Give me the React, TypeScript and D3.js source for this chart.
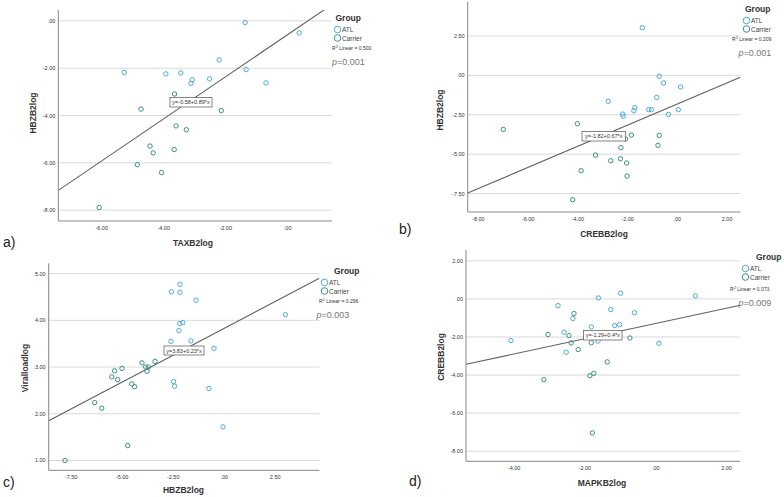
import React from "react";
import * as d3 from "d3";

// Panel a: TAXB2log vs HBZB2log
const aAtlX = [-1.37, 0.37, -5.27, -3.93, -3.45, -2.21, -1.34, -3.08, -3.12, -2.52, -0.70];
const aAtlY = [-0.07, -0.51, -2.18, -2.24, -2.20, -1.65, -2.06, -2.49, -2.64, -2.45, -2.62];
const aCarX = [-3.65, -4.73, -2.14, -3.60, -3.27, -4.44, -4.34, -3.66, -4.85, -4.07, -6.08];
const aCarY = [-3.09, -3.73, -3.79, -4.44, -4.60, -5.29, -5.58, -5.44, -6.08, -6.41, -7.89];

// Panel b: CREBB2log vs HBZB2log
const bAtlX = [-1.41, -0.73, -0.56, 0.13, -0.83, -2.78, -1.71, -1.75, -1.15, -1.04, 0.04, -2.20, -2.18, -0.36];
const bAtlY = [3.02, -0.06, -0.49, -0.74, -1.40, -1.65, -2.05, -2.25, -2.18, -2.18, -2.18, -2.46, -2.60, -2.48];
const bCarX = [-7.0, -4.02, -1.85, -0.73, -2.08, -2.27, -0.78, -3.29, -2.29, -2.68, -2.04, -3.87, -2.02, -4.21];
const bCarY = [-3.43, -3.07, -3.79, -3.81, -4.04, -4.59, -4.44, -5.06, -5.29, -5.42, -5.56, -6.05, -6.39, -7.89];

// Panel c: HBZB2log vs Viralloadlog
const cAtlX = [-2.17, -2.59, -2.17, -1.38, 3.0, -2.03, -2.18, -2.22, -2.61, -1.63, -0.5, -2.48, -2.43, -0.75, -0.06];
const cAtlY = [4.77, 4.61, 4.60, 4.43, 4.12, 3.95, 3.93, 3.78, 3.55, 3.56, 3.40, 2.69, 2.59, 2.54, 1.72];
const cCarX = [-4.03, -3.39, -3.85, -3.72, -3.78, -5.01, -5.37, -5.51, -5.22, -4.53, -4.39, -6.35, -6.0, -4.73, -7.8];
const cCarY = [3.09, 3.12, 3.0, 3.0, 2.91, 2.97, 2.92, 2.79, 2.73, 2.64, 2.58, 2.24, 2.12, 1.32, 1.0];

// Panel d: MAPKB2log vs CREBB2log
const dAtlX = [-0.99, 1.12, -1.62, -2.76, -1.27, -0.60, -2.34, -1.16, -1.02, -1.82, -2.59, -4.09, -1.63, 0.09, -2.53];
const dAtlY = [0.30, 0.16, 0.05, -0.35, -0.56, -0.72, -1.03, -1.40, -1.35, -1.47, -1.75, -2.19, -2.21, -2.33, -2.80];
const dCarX = [-2.31, -3.04, -2.45, -0.73, -2.39, -1.82, -2.19, -1.37, -1.75, -1.86, -3.16, -1.79];
const dCarY = [-0.77, -1.87, -1.93, -2.05, -2.31, -2.30, -2.66, -3.31, -3.91, -4.03, -4.24, -7.04];

const xTicksA = [-6, -4, -2, 0];
const yTicksA = [0, -2, -4, -6, -8];
const xTicksB = [-8, -6, -4, -2, 0, 2];
const yTicksB = [2.5, 0, -2.5, -5, -7.5];
const xTicksC = [-7.5, -5, -2.5, 0, 2.5];
const yTicksC = [5, 4, 3, 2, 1];
const xTicksD = [-4, -2, 0, 2];
const yTicksD = [2, 0, -2, -4, -6, -8];

const intercepts = [-0.58, -1.82, 3.83, -1.29];
const slopes = [0.89, 0.67, 0.23, 0.4];
const eqLabels = ["y=-0.58+0.89*x", "y=-1.82+0.67*x", "y=3.83+0.23*x", "y=-1.29+0.4*x"];
const r2Labels = ["0.500", "0.209", "0.296", "0.073"];
const pLabels = ["0.001", "0.001", "0.003", "0.009"];
const xTitles = ["TAXB2log", "CREBB2log", "HBZB2log", "MAPKB2log"];
const yTitles = ["HBZB2log", "HBZB2log", "Viralloadlog", "CREBB2log"];
const panelLetters = ["a)", "b)", "c)", "d)"];
const groups = ["ATL", "Carrier"];

const ATL = "#4ea9e0";
const CAR = "#3a8f8a";
const FONT = "Liberation Sans, Arial, sans-serif";

function fmt(v: number) {
  if (v === 0) return ".00";
  return v.toFixed(2);
}

type Layout = {
  xd: [number, number]; xr: [number, number];
  yd: [number, number]; yr: [number, number];
  letter: [number, number]; xTitle: [number, number]; yTitle: [number, number];
  eq: [number, number, number, number];
  legend: [number, number]; legCircleX: number; r2: [number, number]; p: [number, number];
};

const layouts: Layout[] = [
  { xd: [-7.4, 1.43], xr: [58.3, 332], yd: [-8.46, 0.46], yr: [221, 10],
    letter: [3, 247], xTitle: [193, 246], yTitle: [36, 113], eq: [170, 97.5, 42, 9.5],
    legend: [335.5, 21], legCircleX: 337.5, r2: [332, 50], p: [332, 65] },
  { xd: [-8.43, 2.53], xr: [467.7, 740.3], yd: [-8.67, 4.67], yr: [212, 1.7],
    letter: [399, 234], xTitle: [604, 237], yTitle: [443, 110], eq: [582, 131.5, 43.5, 9.5],
    legend: [745, 12], legCircleX: 746.5, r2: [732, 41], p: [738.5, 56] },
  { xd: [-8.6, 4.66], xr: [48.7, 319.3], yd: [0.79, 5.22], yr: [470.3, 263.3],
    letter: [3, 487], xTitle: [183.5, 493], yTitle: [28, 368], eq: [164, 346, 40, 9],
    legend: [334, 274], legCircleX: 324.5, r2: [319, 303], p: [316.5, 318] },
  { xd: [-5.36, 2.39], xr: [466, 740.3], yd: [-8.53, 2.57], yr: [461.3, 250],
    letter: [409, 486], xTitle: [602, 486], yTitle: [444, 357], eq: [583.5, 330.5, 38.5, 9.5],
    legend: [756, 260], legCircleX: 745.5, r2: [730, 291], p: [738.5, 306] },
];

const atlX = [aAtlX, bAtlX, cAtlX, dAtlX];
const atlY = [aAtlY, bAtlY, cAtlY, dAtlY];
const carX = [aCarX, bCarX, cCarX, dCarX];
const carY = [aCarY, bCarY, cCarY, dCarY];
const xTicks = [xTicksA, xTicksB, xTicksC, xTicksD];
const yTicks = [yTicksA, yTicksB, yTicksC, yTicksD];

function Panel({ i }: { i: number }) {
  const L = layouts[i];
  const x = d3.scaleLinear().domain(L.xd).range(L.xr);
  const y = d3.scaleLinear().domain(L.yd).range(L.yr);
  const [x0, x1] = L.xr;
  const yb = L.yr[0], yt = L.yr[1];
  const clipId = "clip" + i;
  const line = d3.line<number>().x((v) => x(v)).y((v) => y(intercepts[i] + slopes[i] * v));
  const ax = atlX[i], ay = atlY[i], cx = carX[i], cy = carY[i];
  const legLabelX = layouts[i].legCircleX + 4.5;
  return (
    <g>
      <defs>
        <clipPath id={clipId}>
          <rect x={x0} y={yt} width={x1 - x0} height={yb - yt} />
        </clipPath>
      </defs>
      {yTicks[i].map((t) => (
        <g key={"gy" + t}>
          <line x1={x0} x2={x1} y1={y(t)} y2={y(t)} stroke="#d9d9d9" strokeWidth={1} />
          <text x={x0 - 3} y={y(t) + 2} fontSize={5.5} textAnchor="end" fill="#333" fontFamily={FONT}>{fmt(t)}</text>
        </g>
      ))}
      {xTicks[i].map((t) => (
        <text key={"gx" + t} x={x(t)} y={yb + 8.5} fontSize={5.5} textAnchor="middle" fill="#333" fontFamily={FONT}>{fmt(t)}</text>
      ))}
      <line x1={x0} x2={x0} y1={yt} y2={yb} stroke="#888" strokeWidth={1} />
      <line x1={x0} x2={x1} y1={yb} y2={yb} stroke="#888" strokeWidth={1} />
      <path d={line([L.xd[0], L.xd[1]]) || ""} stroke="#606060" strokeWidth={1.1} fill="none" clipPath={`url(#${clipId})`} />
      {ax.map((v, k) => (
        <circle key={"a" + k} cx={x(v)} cy={y(ay[k])} r={2.2} fill="none" stroke={ATL} strokeWidth={1} />
      ))}
      {cx.map((v, k) => (
        <circle key={"c" + k} cx={x(v)} cy={y(cy[k])} r={2.2} fill="none" stroke={CAR} strokeWidth={1} />
      ))}
      <rect x={L.eq[0]} y={L.eq[1]} width={L.eq[2]} height={L.eq[3]} fill="#fff" stroke="#666" strokeWidth={0.8} />
      <text x={L.eq[0] + L.eq[2] / 2} y={L.eq[1] + L.eq[3] / 2 + 2} fontSize={5.5} textAnchor="middle" fill="#333" fontFamily={FONT}>{eqLabels[i]}</text>
      <text x={L.letter[0]} y={L.letter[1]} fontSize={14} fill="#222" fontFamily={FONT}>{panelLetters[i]}</text>
      <text x={L.xTitle[0]} y={L.xTitle[1]} fontSize={8.5} fontWeight="bold" textAnchor="middle" fill="#333" fontFamily={FONT}>{xTitles[i]}</text>
      <text transform={`translate(${L.yTitle[0]},${L.yTitle[1]}) rotate(-90)`} fontSize={8.5} fontWeight="bold" textAnchor="middle" fill="#333" fontFamily={FONT}>{yTitles[i]}</text>
      <text x={L.legend[0]} y={L.legend[1]} fontSize={8.5} fontWeight="bold" fill="#333" fontFamily={FONT}>Group</text>
      {groups.map((g, k) => (
        <g key={g}>
          <circle cx={L.legCircleX} cy={L.legend[1] + 8.5 + k * 8.5} r={3.3} fill="none" stroke={k === 0 ? ATL : CAR} strokeWidth={1} />
          <text x={legLabelX} y={L.legend[1] + 11 + k * 8.5} fontSize={6.5} fill="#444" fontFamily={FONT}>{g}</text>
        </g>
      ))}
      <text x={L.r2[0]} y={L.r2[1]} fontSize={5} fill="#333" fontFamily={FONT}>
        R<tspan fontSize={3.8} dy={-2}>2</tspan><tspan dy={2}> Linear = {r2Labels[i]}</tspan>
      </text>
      <text x={L.p[0]} y={L.p[1]} fontSize={9} fill="#777" fontFamily={FONT}>
        <tspan fontStyle="italic">p</tspan>={pLabels[i]}
      </text>
    </g>
  );
}

export default function App() {
  return (
    <svg width={784} height={497} style={{ position: "absolute", left: 0, top: 0, background: "#fff" }}>
      <rect width={784} height={497} fill="#fff" />
      {[0, 1, 2, 3].map((i) => <Panel key={i} i={i} />)}
    </svg>
  );
}
